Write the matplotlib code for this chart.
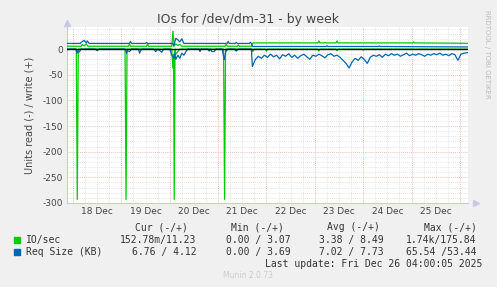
import matplotlib

matplotlib.use("Agg")
import matplotlib.pyplot as plt
import numpy as np

# hours since 18 Dec 00:00
T_START, T_END = -3.0, 196.0
DAY_LABELS = ["18 Dec", "19 Dec", "20 Dec", "21 Dec", "22 Dec", "23 Dec", "24 Dec", "25 Dec"]

# IO/sec, write (+)
io_write_t = [-3, 4, 4.5, 5.5, 6.5, 7.5, 27.5, 28, 28.5, 36.5, 37, 37.5, 49, 49.6, 50.2, 51, 52, 53, 54,
              75.5, 76, 76.5, 81.5, 82, 82.5, 88.5, 89.2, 121.5, 122, 122.5, 124.5, 125, 125.5,
              130.5, 131, 131.5, 168.5, 169, 169.5, 196]
io_write_v = [5.5, 5.5, 9, 6, 10, 5.5, 5.5, 10, 5.5, 5.5, 10, 5.5, 5.5, 35, 6, 10, 7, 9, 5.5,
              5.5, 10, 5.5, 5.5, 8, 5.5, 5.5, 12, 12, 16, 12, 12, 13, 12,
              12, 16, 12, 12, 14, 12, 11.2]

# IO/sec, read (-)
io_read_t = [-3, 1.6, 2.1, 2.6, 25.8, 26.3, 26.8, 49, 49.5, 49.9, 50.2, 50.6, 51, 52, 53,
             74.7, 75.2, 75.7, 88.8, 89.2, 89.8, 95.5, 96, 96.5, 121.5, 122, 122.5,
             130.5, 131, 131.5, 143.5, 144, 144.5, 196]
io_read_v = [0, 0, 293, 0, 0, 293, 0, 0, 37, 10, 293, 0, 10, 5, 0,
             0, 293, 0, 0, 5, 0, 0, 4, 0, 0, 4, 0,
             0, 3, 0, 0, 2, 0, 0.15]

# Req Size (KB), write (+)
rq_write_t = [-3, 3.5, 4, 5.5, 6.5, 7, 8, 28, 28.5, 29, 36, 36.5, 37, 49.5, 50, 51, 52, 53, 54, 55,
              76.5, 77, 77.5, 80.5, 81, 81.5, 87.5, 88, 88.5, 89.2, 125.5, 126, 126.5,
              151.5, 152, 152.5, 196]
rq_write_v = [11, 11, 13, 17, 12, 16, 11, 11, 15, 11, 11, 13, 11, 11, 6, 21, 18, 14, 20, 11,
              11, 15, 11, 11, 13, 11, 11, 13, 11, 5, 5, 6.5, 5,
              5, 6, 5, 4.1]

# Req Size (KB), read (-)
rq_read_t = [-3, 1.5, 2, 2.5, 3, 4, 11, 12, 13, 26, 26.5, 27, 28, 29, 32.5, 33, 34, 40, 41, 42, 44, 45,
             48, 49, 50, 50.5, 51, 52, 53, 54, 55, 56, 57, 62.5, 63, 63.5, 67, 67.5, 68, 69, 70, 71,
             74, 75, 75.5, 76, 77, 80, 81, 82, 88.5,
             89, 90.5, 92, 93.5, 95, 96.5, 98, 99.5, 101, 102.5, 104, 105.5, 107, 108.5, 110, 111.5,
             113, 114.5, 116, 117.5, 119, 120.5, 122, 123.5, 125, 126.5, 128, 129.5, 131, 132.5, 134,
             135.5, 137, 138.5, 140, 141.5, 143, 144.5, 146, 147.5, 149, 150.5, 152, 153.5, 155, 156.5,
             158, 159.5, 161, 162.5, 164, 165.5, 167, 168.5, 170, 171.5, 173, 174.5, 176, 177.5, 179,
             180.5, 182, 183.5, 185, 186.5, 188, 189.5, 191, 192.5, 194, 196]
rq_read_v = [0, 0, 8, 3, 6, 0, 0, 3, 0, 0, 8, 3, 5, 0, 0, 8, 0, 0, 5, 0, 6, 0,
             0, 12, 18, 8, 20, 12, 18, 8, 12, 5, 0, 0, 5, 0, 0, 4, 0, 5, 5, 0,
             0, 21, 10, 3, 0, 0, 4, 0, 0,
             34, 20, 14, 18, 12, 16, 10, 15, 12, 19, 11, 14, 9, 16, 12, 18,
             13, 10, 15, 20, 12, 14, 10, 13, 17, 11, 9, 14, 12, 16, 22,
             28, 37, 25, 18, 22, 15, 20, 28, 16, 12, 14, 11, 16, 10, 13,
             9, 12, 10, 14, 11, 8, 13, 10, 12, 9, 11, 14, 10, 12, 9,
             11, 8, 12, 10, 13, 9, 11, 22, 10, 8, 6.8]

GREEN = "#00CC00"
BLUE = "#0066B3"
TXT = "#444444"

fig = plt.figure(figsize=(4.97, 2.87), dpi=100, facecolor="#F0F0F0")
ax = fig.add_axes([67 / 497, 1 - 203 / 287, 401 / 497, 176 / 287])
ax.set_facecolor("white")
ax.set_xlim(T_START, T_END)
ax.set_ylim(-300, 43)

# grid: minor grey, major red
for h in range(0, 196, 6):
    if h % 24:
        ax.axvline(h, color="#DDDDDD", lw=0.6, ls=(0, (1, 1.5)), zorder=0)
for y in range(-290, 43, 10):
    if y % 50:
        ax.axhline(y, color="#DDDDDD", lw=0.6, ls=(0, (1, 1.5)), zorder=0)
for d in range(9):
    ax.axvline(d * 24, color="#E8A8A8", lw=0.6, ls=(0, (1, 1.5)), zorder=0)
for y in range(-300, 1, 50):
    ax.axhline(y, color="#E8A8A8", lw=0.6, ls=(0, (1, 1.5)), zorder=0)

ax.plot(io_write_t, io_write_v, color=GREEN, lw=0.9, zorder=3)
ax.plot(io_read_t, -np.array(io_read_v), color=GREEN, lw=0.9, zorder=3)
ax.plot(rq_write_t, rq_write_v, color=BLUE, lw=0.9, zorder=4)
ax.plot(rq_read_t, -np.array(rq_read_v), color=BLUE, lw=0.9, zorder=4)
ax.axhline(0, color="black", lw=1.0, zorder=5)

for s in ["top", "right"]:
    ax.spines[s].set_visible(False)
for s in ["left", "bottom"]:
    ax.spines[s].set_color("#C8C8E8")
    ax.spines[s].set_linewidth(0.8)
ax.plot(0, 1.02, "^", transform=ax.transAxes, color="#C8C8E8", ms=4, clip_on=False)
ax.plot(1.02, 0, ">", transform=ax.transAxes, color="#C8C8E8", ms=4, clip_on=False)

ax.set_yticks(range(-300, 1, 50))
ax.set_yticklabels([str(v) for v in range(-300, 1, 50)])
ax.set_xticks([12 + 24 * i for i in range(8)])
ax.set_xticklabels(DAY_LABELS)
ax.tick_params(axis="both", length=0, labelsize=6.5, colors=TXT, pad=3)
ax.set_ylabel("Units read (-) / write (+)", fontsize=7, color=TXT, labelpad=6)

fig.text(248 / 497, 1 - 19 / 287, "IOs for /dev/dm-31 - by week", ha="center", va="center",
         fontsize=9, color=TXT)
fig.text(487 / 497, 1 - 54 / 287, "RRDTOOL / TOBI OETIKER", rotation=270, ha="center", va="center",
         fontsize=5, color="#BBBBBB")

mono = dict(family="DejaVu Sans Mono", fontsize=7, color="#333333", va="center")
def ft(x, y, s, **kw):
    opts = dict(mono)
    opts.update(kw)
    fig.text(x / 497, 1 - y / 287, s, **opts)

for x, h in [(161, "Cur (-/+)"), (257, "Min (-/+)"), (353, "Avg (-/+)"), (450, "Max (-/+)")]:
    ft(x, 227.3, h, ha="center")

rows = [
    (GREEN, "IO/sec", "152.78m/11.23", "0.00 / 3.07", "3.38 / 8.49", "1.74k/175.84"),
    (BLUE, "Req Size (KB)", "6.76 / 4.12", "0.00 / 3.69", "7.02 / 7.73", "65.54 /53.44"),
]
for (col, name, cur, mn, avg, mx), y in zip(rows, [239.7, 251.7]):
    fig.patches.append(plt.Rectangle((14 / 497, 1 - (y + 3) / 287), 6 / 497, 6 / 287,
                                     transform=fig.transFigure, color=col))
    ft(26, y, name, ha="left")
    ft(196.7, y, cur, ha="right")
    ft(290.7, y, mn, ha="right")
    ft(383.3, y, avg, ha="right")
    ft(476.7, y, mx, ha="right")

ft(482.7, 263.7, "Last update: Fri Dec 26 04:00:05 2025", ha="right")
fig.text(248 / 497, 1 - 276 / 287, "Munin 2.0.73", ha="center", va="center", fontsize=5.5,
         color="#CCCCCC")

fig.savefig("out.png", dpi=100, facecolor=fig.get_facecolor())
